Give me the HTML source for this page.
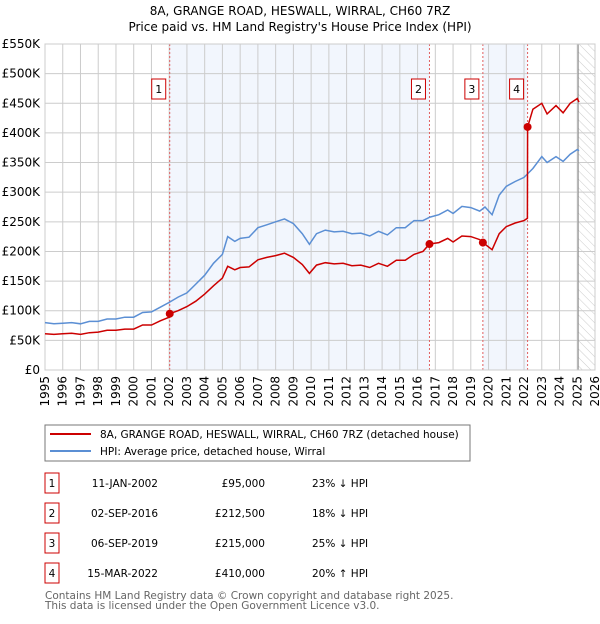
<!DOCTYPE html>
<html><head><meta charset="utf-8"><style>
body{margin:0;background:#fff;font-family:"DejaVu Sans","Liberation Sans",sans-serif;}
svg text{font-family:"DejaVu Sans","Liberation Sans",sans-serif;}
</style></head><body>
<svg id="chart" width="600" height="620" viewBox="0 0 600 620" xmlns="http://www.w3.org/2000/svg">
<defs><pattern id="hatch" width="6" height="6" patternUnits="userSpaceOnUse" patternTransform="rotate(-45)"><line x1="0" y1="0" x2="0" y2="6" stroke="#ccc" stroke-width="1"/></pattern></defs>
<text x="300" y="15" text-anchor="middle" font-size="12">8A, GRANGE ROAD, HESWALL, WIRRAL, CH60 7RZ</text>
<text x="300" y="31" text-anchor="middle" font-size="12">Price paid vs. HM Land Registry's House Price Index (HPI)</text>
<g id="plot"></g>
<rect x="45" y="425" width="425" height="36" fill="#fff" stroke="#777"/>
<line x1="50" y1="434" x2="91" y2="434" stroke="#cc0000" stroke-width="2"/>
<text x="100" y="438" font-size="10.5">8A, GRANGE ROAD, HESWALL, WIRRAL, CH60 7RZ (detached house)</text>
<line x1="50" y1="451" x2="91" y2="451" stroke="#5b8fd4" stroke-width="2"/>
<text x="100" y="455" font-size="10.5">HPI: Average price, detached house, Wirral</text>
<g id="table" font-size="10.5"></g>
<text x="45" y="599" font-size="10.5" fill="#666">Contains HM Land Registry data © Crown copyright and database right 2025.</text>
<text x="45" y="609" font-size="10.5" fill="#666">This data is licensed under the Open Government Licence v3.0.</text>
</svg>
<script>
const hpiX=[1995,1995.5,1996,1996.5,1997,1997.5,1998,1998.5,1999,1999.5,2000,2000.5,2001,2001.5,2002,2002.5,2003,2003.5,2004,2004.5,2005,2005.3,2005.7,2006,2006.5,2007,2007.5,2008,2008.5,2009,2009.5,2009.9,2010.3,2010.8,2011.3,2011.8,2012.3,2012.8,2013.3,2013.8,2014.3,2014.8,2015.3,2015.8,2016.3,2016.7,2017.2,2017.7,2018,2018.5,2019,2019.5,2019.8,2020.2,2020.6,2021,2021.5,2022,2022.5,2023,2023.3,2023.8,2024.2,2024.6,2025,2025.1];
const hpiY=[80,78,79,80,78,82,82,86,86,89,89,97,98,106,114,123,130,145,160,180,195,225,217,222,224,240,245,250,255,247,230,212,230,236,233,234,230,231,226,234,228,240,240,252,252,258,262,270,264,276,274,268,275,262,295,310,318,325,340,360,350,360,352,364,372,370];
const redX=[1995,1995.5,1996,1996.5,1997,1997.5,1998,1998.5,1999,1999.5,2000,2000.5,2001,2001.5,2002,2002.03,2002.5,2003,2003.5,2004,2004.5,2005,2005.3,2005.7,2006,2006.5,2007,2007.5,2008,2008.5,2009,2009.5,2009.9,2010.3,2010.8,2011.3,2011.8,2012.3,2012.8,2013.3,2013.8,2014.3,2014.8,2015.3,2015.8,2016.3,2016.67,2017.2,2017.7,2018,2018.5,2019,2019.5,2019.68,2020.2,2020.6,2021,2021.5,2022,2022.19,2022.2,2022.5,2023,2023.3,2023.8,2024.2,2024.6,2025,2025.1];
const redY=[61,60,61,62,60,63,64,67,67,69,69,76,76,83,89,95,100,107,116,128,142,155,175,169,173,174,186,190,193,197,190,178,163,177,181,179,180,176,177,173,180,175,185,185,195,200,212.5,215,222,216,226,225,220,215,203,230,242,248,252,256,410,440,450,432,446,434,450,458,452];
const saleX=[2002.03,2016.67,2019.68,2022.2];
const saleY=[95,212.5,215,410];
const saleLabels=["1","2","3","4"];
const saleDates=["11-JAN-2002","02-SEP-2016","06-SEP-2019","15-MAR-2022"];
const salePrices=["£95,000","£212,500","£215,000","£410,000"];
const saleDiffs=["23% ↓ HPI","18% ↓ HPI","25% ↓ HPI","20% ↑ HPI"];
const yTicks=[0,50,100,150,200,250,300,350,400,450,500,550];
const yTickLabels=["£0","£50K","£100K","£150K","£200K","£250K","£300K","£350K","£400K","£450K","£500K","£550K"];
const xTicks=[1995,1996,1997,1998,1999,2000,2001,2002,2003,2004,2005,2006,2007,2008,2009,2010,2011,2012,2013,2014,2015,2016,2017,2018,2019,2020,2021,2022,2023,2024,2025,2026];

const NS="http://www.w3.org/2000/svg";
const L=45,R=595,T=44,B=370;
const xs=v=>L+(v-1995)/(2026-1995)*(R-L);
const ys=v=>B-v/550*(B-T);
const g=document.getElementById('plot');
function mk(tag,a,p){const e=document.createElementNS(NS,tag);for(const k in a)e.setAttribute(k,a[k]);(p||g).appendChild(e);return e;}
let e;
e=mk('rect',{x:xs(saleX[0]),y:T,width:xs(saleX[1])-xs(saleX[0]),height:B-T,fill:'#f2f6fd'});


e=mk('rect',{x:xs(saleX[2]),y:T,width:xs(saleX[3])-xs(saleX[2]),height:B-T,fill:'#f2f6fd'});


e=mk('rect',{x:xs(2025.05),y:T,width:R-xs(2025.05),height:B-T,fill:'url(#hatch)'});


yTicks.forEach((v,i)=>{
 e=mk('line',{x1:L,x2:R,y1:ys(v),y2:ys(v),stroke:'#ccc','stroke-width':1});
 
 
 e=mk('text',{x:L-5,y:ys(v)+4,'text-anchor':'end','font-size':12});
 e.textContent=yTickLabels[i];
 
 
});
xTicks.forEach(v=>{
 e=mk('line',{x1:xs(v),x2:xs(v),y1:T,y2:B,stroke:'#ccc','stroke-width':1});
 
 
 e=mk('text',{x:0,y:0,'text-anchor':'end','font-size':12,transform:`translate(${xs(v)+4},${B+6}) rotate(-90)`});
 e.textContent=v;
 
 
});
e=mk('line',{x1:xs(2025.05),x2:xs(2025.05),y1:T,y2:B,stroke:'#888','stroke-width':1});


saleX.forEach((v,i)=>{
 e=mk('line',{x1:xs(v),x2:xs(v),y1:T,y2:B,stroke:'#e06060','stroke-width':1,'stroke-dasharray':'2,2'});
 
 
 e=mk('rect',{x:xs(v)-18,y:79,width:14,height:20,fill:'#fff',stroke:'#cc0000'});
 
 
 e=mk('text',{x:xs(v)-11,y:93,'text-anchor':'middle','font-size':11});
 e.textContent=saleLabels[i];
 
 
});
e=mk('rect',{x:L,y:T,width:R-L,height:B-T,fill:'none',stroke:'#ccc'});


const pts=(X,Y)=>X.map((x,i)=>xs(x).toFixed(1)+','+ys(Y[i]).toFixed(1)).join(' ');
e=mk('polyline',{points:pts(hpiX,hpiY),fill:'none',stroke:'#5b8fd4','stroke-width':1.5});


e=mk('polyline',{points:pts(redX,redY),fill:'none',stroke:'#cc0000','stroke-width':1.5});


saleX.forEach((v,i)=>{
 e=mk('circle',{cx:xs(v),cy:ys(saleY[i]),r:4,fill:'#cc0000'});
 
 
});
const tb=document.getElementById('table');
saleX.forEach((v,i)=>{
 const cy=483+i*30;
 e=mk('rect',{x:45,y:cy-10,width:14,height:20,fill:'#fff',stroke:'#cc0000'},tb);
 
 
 e=mk('text',{x:52,y:cy+4,'text-anchor':'middle'},tb);e.textContent=saleLabels[i];
 
 
 e=mk('text',{x:158,y:cy+4,'text-anchor':'end'},tb);e.textContent=saleDates[i];
 
 
 e=mk('text',{x:265,y:cy+4,'text-anchor':'end'},tb);e.textContent=salePrices[i];
 
 
 e=mk('text',{x:312,y:cy+4},tb);e.textContent=saleDiffs[i];
 
 
});
</script>
</body></html>
